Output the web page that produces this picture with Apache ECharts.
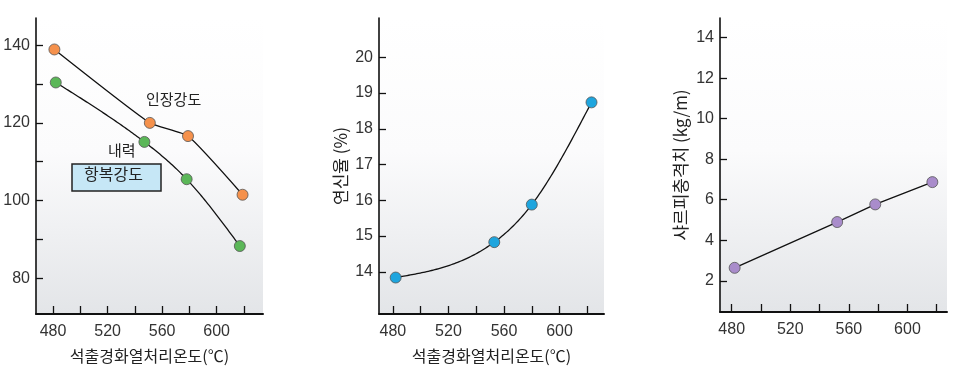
<!DOCTYPE html>
<html><head><meta charset="utf-8">
<script src="https://cdn.jsdelivr.net/npm/echarts@6/dist/echarts.min.js"></script>
<style>html,body{margin:0;padding:0;background:#fff}#c{width:974px;height:375px}</style>
</head><body><div id="c"></div>
<script>
// Data
const tensileTemp = [481, 551, 579, 619];
const tensileVal = [138.9, 120.0, 116.6, 101.5];
const yieldTemp = [482, 547, 578, 617];
const yieldVal = [130.4, 115.1, 105.5, 88.3];
const elongTemp = [482, 553, 580, 623];
const elongVal = [13.84, 14.83, 15.88, 18.74];
const charpyTemp = [482, 552, 578, 617];
const charpyVal = [2.64, 4.9, 5.77, 6.87];
const xLabelTicks = [480, 520, 560, 600];
const xMinorTicks = [480, 500, 520, 540, 560, 580, 600, 620];
const y1Labels = [80, 100, 120, 140];
const y1Ticks = [80, 90, 100, 110, 120, 130, 140];
const y2Labels = [14, 15, 16, 17, 18, 19, 20];
const y3Labels = [2, 4, 6, 8, 10, 12, 14];
const xTitle = '석출경화열처리온도(℃)';
const y2Title = '연신율 (%)';
const y3Title = '샤르피충격치 (kg/m)';

const pairs = (xs, ys) => xs.map((x, i) => [x, ys[i]]);
const KR = '"Noto Sans CJK KR", sans-serif';
const NUM = '"Liberation Sans", Arial, sans-serif';
const bg = new echarts.graphic.LinearGradient(0, 0, 0, 1, [
  {offset: 0, color: '#ffffff'}, {offset: 0.45, color: '#fbfbfc'}, {offset: 1, color: '#e3e5e8'}]);

// natural cubic spline through the data points (curve shape only)
function naturalSpline(xs, ys) {
  const n = xs.length, h = [], l = [1], mu = [0], z = [0], b = [], c = [], d = [];
  for (let i = 0; i < n - 1; i++) h[i] = xs[i + 1] - xs[i];
  for (let i = 1; i < n - 1; i++) {
    const alpha = 3 / h[i] * (ys[i + 1] - ys[i]) - 3 / h[i - 1] * (ys[i] - ys[i - 1]);
    l[i] = 2 * (xs[i + 1] - xs[i - 1]) - h[i - 1] * mu[i - 1];
    mu[i] = h[i] / l[i];
    z[i] = (alpha - h[i - 1] * z[i - 1]) / l[i];
  }
  c[n - 1] = 0;
  for (let j = n - 2; j >= 0; j--) {
    c[j] = z[j] - mu[j] * c[j + 1];
    b[j] = (ys[j + 1] - ys[j]) / h[j] - h[j] * (c[j + 1] + 2 * c[j]) / 3;
    d[j] = (c[j + 1] - c[j]) / (3 * h[j]);
  }
  return function (x) {
    let j = 0;
    while (j < n - 2 && x > xs[j + 1]) j++;
    const dx = x - xs[j];
    return ys[j] + b[j] * dx + c[j] * dx * dx + d[j] * dx * dx * dx;
  };
}
function curveSeries(xi, xs, ys) {
  const f = naturalSpline(xs, ys);
  return {
    type: 'custom', xAxisIndex: xi, yAxisIndex: xi, data: pairs(xs, ys), z: 2, silent: true,
    renderItem: function (params, api) {
      if (params.dataIndex !== 0) return null;
      const pts = [];
      const x0 = xs[0], x1 = xs[xs.length - 1], N = 120;
      for (let k = 0; k <= N; k++) {
        const x = x0 + (x1 - x0) * k / N;
        pts.push(api.coord([x, f(x)]));
      }
      return {type: 'polyline', shape: {points: pts}, style: {stroke: '#111', lineWidth: 1.3, fill: null}};
    }
  };
}

function xAx(gi, min, max, title) {
  return {
    type: 'value', gridIndex: gi, min: min, max: max,
    axisLine: {lineStyle: {color: '#111', width: 2}},
    axisTick: {inside: true, length: 8, lineStyle: {color: '#111', width: 1.3}, customValues: xMinorTicks},
    axisLabel: {customValues: xLabelTicks, color: '#333', fontSize: 16, fontFamily: NUM, margin: 10},
    splitLine: {show: false},
    name: title || '', nameLocation: 'middle', nameGap: 34,
    nameTextStyle: {fontFamily: KR, fontSize: 16, color: '#222'}
  };
}
function yAx(gi, min, max, labels, ticks, title, gap) {
  return {
    type: 'value', gridIndex: gi, min: min, max: max,
    axisLine: {show: true, lineStyle: {color: '#111', width: 1.6}},
    axisTick: {show: true, inside: true, length: 7, lineStyle: {color: '#111', width: 1.3}, customValues: ticks},
    axisLabel: {customValues: labels, color: '#333', fontSize: 16, fontFamily: NUM, margin: 6},
    splitLine: {show: false},
    name: title || '', nameLocation: 'middle', nameGap: gap || 30,
    nameTextStyle: {fontFamily: KR, fontSize: 17, color: '#222'}
  };
}
function ser(xi, data, color, smooth, noLine) {
  return {
    type: 'line', xAxisIndex: xi, yAxisIndex: xi, data: data, smooth: smooth,
    symbol: 'circle', symbolSize: 11, showSymbol: true,
    lineStyle: noLine ? {width: 0, opacity: 0} : {color: '#111', width: 1.3},
    itemStyle: {color: color, borderColor: '#555', borderWidth: 0.8},
    z: 3, animation: false
  };
}

const chart = echarts.init(document.getElementById('c'), null, {renderer: 'canvas'});
chart.setOption({
  animation: false,
  grid: [
    {left: 36, top: 18, width: 227, height: 296, show: true, borderWidth: 0, backgroundColor: bg},
    {left: 379, top: 18, width: 225, height: 296, show: true, borderWidth: 0, backgroundColor: bg},
    {left: 720, top: 18, width: 227, height: 294, show: true, borderWidth: 0, backgroundColor: bg}
  ],
  xAxis: [xAx(0, 467.5, 634, xTitle), xAx(1, 470, 632, xTitle), xAx(2, 472, 627, '')],
  yAxis: [
    yAx(0, 70.8, 147, y1Labels, y1Ticks, ''),
    yAx(1, 12.82, 21.1, y2Labels, y2Labels, y2Title, 30),
    yAx(2, 0.46, 14.97, y3Labels, y3Labels, y3Title, 31)
  ],
  series: [
    ser(0, pairs(tensileTemp, tensileVal), '#f5914c', 0.15),
    curveSeries(0, yieldTemp, yieldVal),
    ser(0, pairs(yieldTemp, yieldVal), '#5bb758', false, true),
    curveSeries(1, elongTemp, elongVal),
    ser(1, pairs(elongTemp, elongVal), '#1ea5de', false, true),
    ser(2, pairs(charpyTemp, charpyVal), '#a98ccb', false)
  ],
  graphic: [
    {type: 'text', left: 146, top: 92, style: {text: '인장강도', font: '15px ' + KR, fill: '#222'}},
    {type: 'text', left: 108, top: 143, style: {text: '내력', font: '15px ' + KR, fill: '#222'}},
    {type: 'rect', shape: {x: 72, y: 164, width: 89, height: 27}, style: {fill: '#c6e7f6', stroke: '#222', lineWidth: 1.5}},
    {type: 'text', left: 84, top: 166, style: {text: '항복강도', font: '16px ' + KR, fill: '#222'}}
  ]
});
</script></body></html>
